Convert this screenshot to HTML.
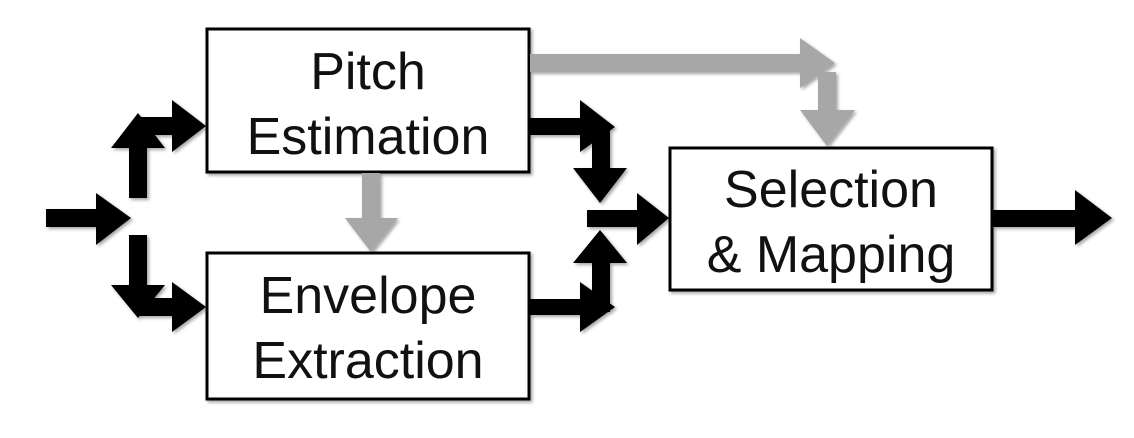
<!DOCTYPE html>
<html><head><meta charset="utf-8"><style>
html,body{margin:0;padding:0;background:#fff;width:1134px;height:438px;overflow:hidden}
svg text{font-family:"Liberation Sans",sans-serif;font-size:52px;fill:#111;text-anchor:middle}
</style></head><body>
<svg width="1134" height="438" viewBox="0 0 1134 438" xmlns="http://www.w3.org/2000/svg">
<defs><filter id="s" x="-10%" y="-10%" width="130%" height="130%"><feDropShadow dx="2" dy="2" stdDeviation="1.5" flood-color="#000" flood-opacity="0.35"/></filter></defs>
<g filter="url(#s)">
<!-- boxes -->
<rect x="207" y="29" width="322" height="143" fill="#fff" stroke="#000" stroke-width="3"/>
<rect x="207" y="253" width="322" height="146" fill="#fff" stroke="#000" stroke-width="3"/>
<rect x="670" y="148" width="322" height="142" fill="#fff" stroke="#000" stroke-width="3"/>
<!-- gray arrows -->
<g fill="#a6a7a6">
<polygon points="530,54 800,54 800,38 835,63 800,88 800,72 530,72"/>
<polygon points="818,72 836,72 836,110 855,110 827,146 800,110 818,110"/>
<polygon points="362,173 380,173 380,218 398,218 371,252 345,218 362,218"/>
</g>
<g fill="#000">
<!-- input -->
<polygon points="46,209 96,209 96,193 131,218 96,245 96,227 46,227"/>
<!-- up then right -->
<polygon points="129,198 129,148 111,148 138,113 165,148 147,148 147,198"/>
<polygon points="140,117 172,117 172,100 206,126 172,152 172,135 140,135"/>
<!-- down then right -->
<polygon points="129,235 147,235 147,285 165,285 138,318 111,285 129,285"/>
<polygon points="140,298 172,298 172,282 206,307 172,332 172,316 140,316"/>
<!-- pitch right/down -->
<polygon points="530,118 580,118 580,100 615,127 580,152 580,135 530,135"/>
<polygon points="592,130 610,130 610,168 627,168 600,203 573,168 592,168"/>
<!-- center -->
<polygon points="587,210 637,210 637,193 669,218 637,245 637,227 587,227"/>
<!-- envelope right/up -->
<polygon points="530,299 580,299 580,282 615,307 580,332 580,315 530,315"/>
<polygon points="592,312 592,263 573,263 600,230 627,263 610,263 610,312"/>
<!-- output -->
<polygon points="993,210 1075,210 1075,190 1112,218 1075,245 1075,227 993,227"/>
</g>
</g>
<text x="368" y="89">Pitch</text>
<text x="368" y="154">Estimation</text>
<text x="368" y="313">Envelope</text>
<text x="368" y="378">Extraction</text>
<text x="831" y="207">Selection</text>
<text x="831" y="272">&amp; Mapping</text>
</svg>
</body></html>
